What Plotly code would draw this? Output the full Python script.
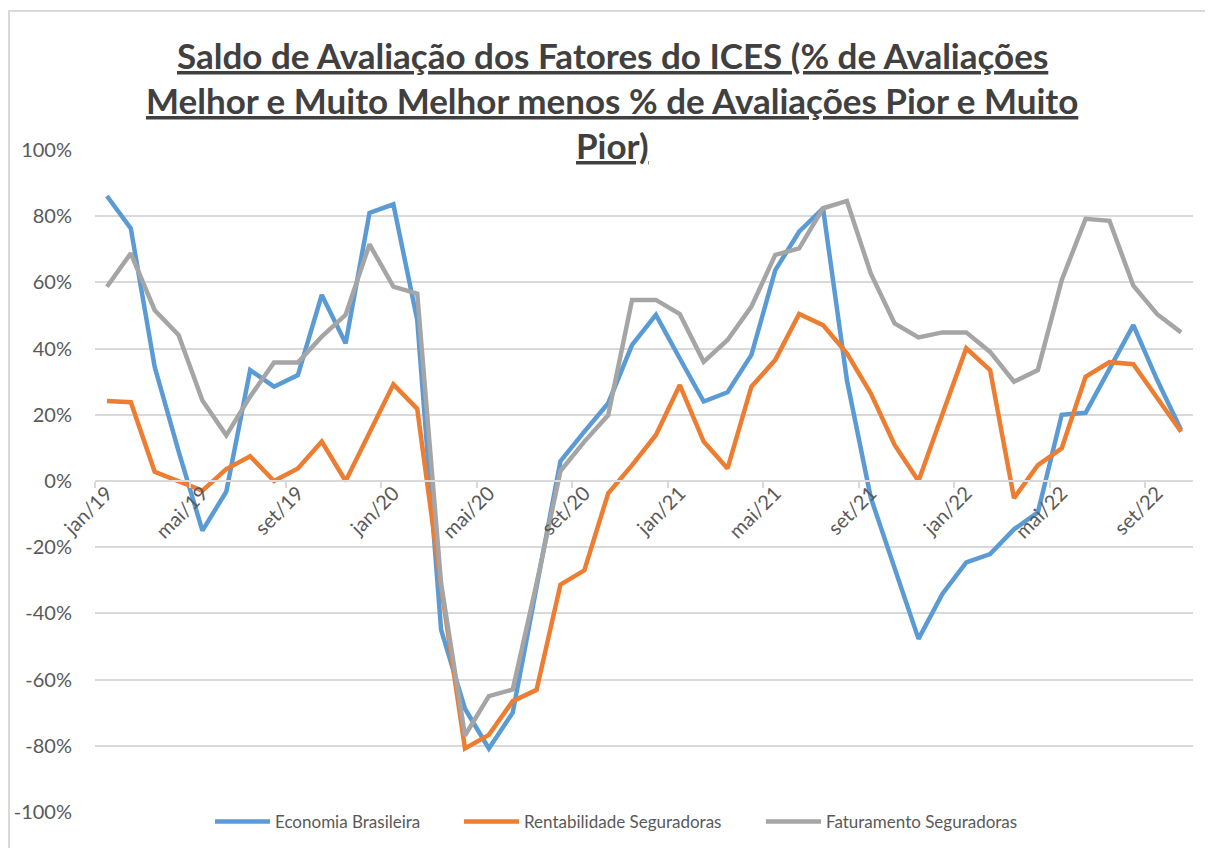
import plotly.graph_objects as go

months = ["jan", "fev", "mar", "abr", "mai", "jun", "jul", "ago", "set", "out", "nov", "dez"]
categories = [f"{m}/{y}" for y in ["19", "20", "21", "22"] for m in months][:46]

economia = [86.1, 76.3, 34.5, 9.0, -15.0, -3.2, 33.5, 28.5, 32.0, 56.2, 41.6, 81.0,
            83.6, 48.6, -45.0, -68.8, -80.8, -70.0, -32.0, 6.0, 14.9, 23.5, 41.1, 50.2,
            37.0, 24.0, 26.8, 38.1, 63.7, 75.3, 82.4, 30.5, -5.0, -26.0, -47.7, -34.1,
            -24.6, -22.1, -14.6, -9.5, 20.0, 20.6, 34.0, 47.1, 30.5, 15.4]
rentabilidade = [24.2, 23.8, 2.8, 0.0, -2.9, 3.6, 7.5, 0.0, 3.8, 11.9, 0.0, 14.6,
                 29.2, 21.8, -32.0, -80.8, -76.7, -66.5, -63.1, -31.3, -27.0, -3.7, 4.8, 13.9,
                 29.0, 11.9, 3.8, 28.5, 36.6, 50.5, 47.1, 38.6, 26.5, 10.9, 0.0, 20.2,
                 40.1, 33.5, -5.2, 4.8, 9.9, 31.5, 35.9, 35.3, 25.0, 14.9]
faturamento = [58.7, 68.8, 51.6, 44.1, 24.3, 13.8, 25.5, 35.8, 35.8, 43.6, 50.2, 71.5,
               58.7, 56.6, -31.0, -76.9, -65.0, -63.0, -31.0, 3.0, 11.9, 19.9, 54.7, 54.7,
               50.4, 36.0, 42.6, 52.7, 68.3, 70.3, 82.4, 84.6, 62.7, 47.6, 43.4, 44.9,
               44.9, 39.0, 30.0, 33.5, 60.7, 79.2, 78.6, 59.0, 50.4, 44.9]

series_names = ["Economia Brasileira", "Rentabilidade Seguradoras", "Faturamento Seguradoras"]
series_colors = ["#5B9BD5", "#ED7D31", "#A5A5A5"]

y_tickvals = [-100, -80, -60, -40, -20, 0, 20, 40, 60, 80, 100]
y_ticktext = ["-100%", "-80%", "-60%", "-40%", "-20%", "0%", "20%", "40%", "60%", "80%", "100%"]

title_lines = [
    "Saldo de Avaliação dos Fatores do ICES (% de Avaliações",
    "Melhor e Muito Melhor menos % de Avaliações Pior e Muito",
    "Pior)",
]

OFF = 8  # page body margin
W, H = 1213 - OFF, 848 - OFF
L, R, T, B = 95 - OFF, 20, 150 - OFF, 36
pw, ph = W - L - R, H - T - B

def px_to_paper_y(y):
    return (H - B - (y - OFF)) / ph

def px_to_paper_x(x):
    return ((x - OFF) - L) / pw

font_family = "Lato, 'Open Sans', sans-serif"
grid = "#D9D9D9"
txt = "#595959"

legend_ids = ["legend", "legend2", "legend3"]
legend_x_px = [210, 459, 761]

fig = go.Figure()
for name, vals, color, lid in zip(series_names, [economia, rentabilidade, faturamento],
                                  series_colors, legend_ids):
    fig.add_trace(go.Scatter(x=categories, y=vals, name=name, mode="lines", legend=lid,
                             line=dict(color=color, width=4.5)))

legend_common = dict(orientation="h", xanchor="left", y=px_to_paper_y(822), yanchor="middle",
                     itemwidth=55, font=dict(size=17, color=txt), bgcolor="rgba(0,0,0,0)")

fig.update_layout(
    width=W, height=H, autosize=False,
    margin=dict(l=L, r=R, t=T, b=B, autoexpand=False),
    paper_bgcolor="white", plot_bgcolor="white",
    font=dict(family=font_family, color=txt),
    showlegend=True,
    legend=dict(x=px_to_paper_x(legend_x_px[0]), **legend_common),
    legend2=dict(x=px_to_paper_x(legend_x_px[1]), **legend_common),
    legend3=dict(x=px_to_paper_x(legend_x_px[2]), **legend_common),
    xaxis=dict(type="category", range=[-0.5, 45.5], anchor="free", position=0.5,
               tickmode="linear", tick0=0, dtick=4, tickson="boundaries",
               ticks="outside", ticklen=6, tickcolor=grid, tickwidth=1.5,
               showline=True, linecolor=grid, linewidth=1.5, showgrid=False,
               ticklabelstandoff=-8,
               tickangle=-45, tickfont=dict(size=20, color=txt), automargin=False),
    yaxis=dict(range=[-100, 100], tickvals=y_tickvals, ticktext=y_ticktext,
               showgrid=True, gridcolor=grid, gridwidth=1.5,
               zeroline=True, zerolinecolor=grid, zerolinewidth=1.5,
               showline=False, ticks="", ticklabelstandoff=22, automargin=False,
               tickfont=dict(size=20, color=txt)),
)

line_y = [55, 100, 145]
for i, (t, yy) in enumerate(zip(title_lines, line_y)):
    fig.add_annotation(
        text=t, xref="paper", yref="paper",
        x=px_to_paper_x(612), y=px_to_paper_y(yy), xanchor="center", yanchor="middle",
        showarrow=False,
        font=dict(family=font_family, size=35, color="#404040", weight="bold", lineposition="under"),
        bgcolor="white" if i == 2 else "rgba(0,0,0,0)", borderpad=0,
    )

fig.add_shape(type="rect", xref="paper", yref="paper",
              x0=px_to_paper_x(9), x1=1.2, y0=-0.3, y1=px_to_paper_y(11),
              line=dict(color=grid, width=2), fillcolor="rgba(0,0,0,0)", layer="below")

fig.write_html("out.html")
